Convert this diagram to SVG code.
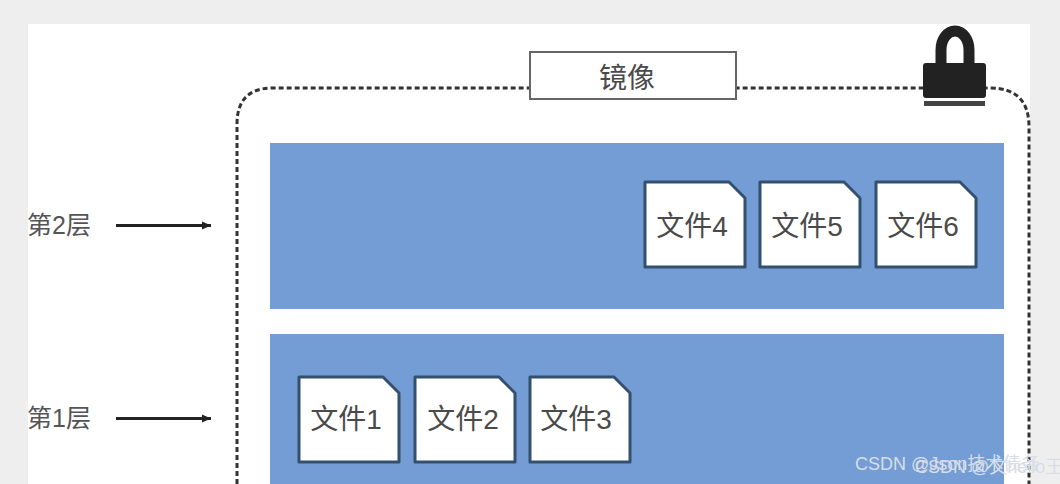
<svg xmlns="http://www.w3.org/2000/svg" width="1060" height="484" viewBox="0 0 1060 484">
<defs>
<marker id="ah" markerUnits="userSpaceOnUse" markerWidth="10" markerHeight="10" refX="9" refY="5" orient="auto"><path d="M0 1 L9 5 L0 9 Z" fill="#222"/></marker>
<path id="doc" d="M0 0 H84 L100 16 V85 H0 Z"/>
</defs>
<style>
text{font-family:"Liberation Sans","Noto Sans CJK SC",sans-serif;fill:#444}
.f{font-size:28px;text-anchor:middle;fill:#4a4a4a}
.l{font-size:25px;fill:#555}
.d{fill:#fff;stroke:#33506f;stroke-width:3;stroke-linejoin:round}
.b{fill:#749dd5}
</style>
<rect width="1060" height="484" fill="#eeeeee"/>
<rect x="28" y="24" width="1002" height="460" fill="#fff"/>
<g id="connectors">
<path d="M237 484 V124 Q237 88 273 88 H990 Q1029 88 1029 127 V484" fill="none" stroke="#333" stroke-width="3" stroke-dasharray="5 3"/>
<path d="M116 225.500 H211" fill="none" stroke="#222" stroke-width="3" marker-end="url(#ah)"/>
<path d="M116 418.500 H211" fill="none" stroke="#222" stroke-width="3" marker-end="url(#ah)"/>
</g>
<g id="layer2"><rect class="b" x="270" y="143" width="734" height="166"/></g>
<g id="layer1"><rect class="b" x="270" y="334" width="734" height="150"/></g>
<g id="image-label"><rect x="530" y="52" width="206" height="47" fill="#fff" stroke="#666" stroke-width="2"/><text x="627" y="88" class="f">镜像</text></g>
<g id="lock">
<path d="M941 68 V50 A14 19 0 0 1 969 50 V68" fill="none" stroke="#222" stroke-width="11"/>
<rect x="923" y="63" width="63" height="35" rx="3" fill="#222"/>
<rect x="924" y="101" width="61" height="5" fill="#444"/>
</g>
<g id="label-2"><text x="27" y="234" class="l">第2层</text></g>
<g id="label-1"><text x="27" y="427" class="l">第1层</text></g>
<g id="file4"><use href="#doc" class="d" x="645" y="182"/><text x="692" y="236" class="f">文件4</text></g>
<g id="file5"><use href="#doc" class="d" x="760" y="182"/><text x="807" y="236" class="f">文件5</text></g>
<g id="file6"><use href="#doc" class="d" x="876" y="182"/><text x="923" y="236" class="f">文件6</text></g>
<g id="file1"><use href="#doc" class="d" x="299" y="377"/><text x="346" y="429" class="f">文件1</text></g>
<g id="file2"><use href="#doc" class="d" x="415" y="377"/><text x="463" y="429" class="f">文件2</text></g>
<g id="file3"><use href="#doc" class="d" x="530" y="377"/><text x="576" y="429" class="f">文件3</text></g>
<g id="watermark">
<text x="855" y="470" font-size="18" style="fill:#d8dde6">CSDN @Json技术债务</text>
<text x="915" y="473" font-size="18" style="fill:#d8dde6">CSDN @文hello王</text>
</g>
</svg>
